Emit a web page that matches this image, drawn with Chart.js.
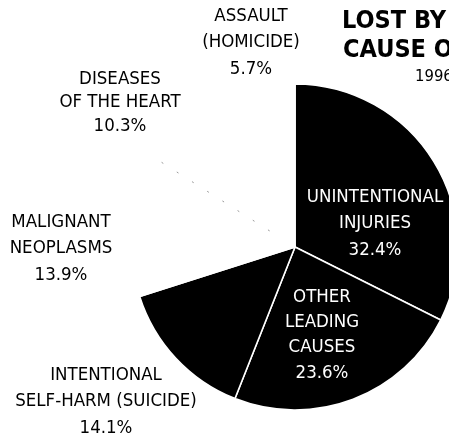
<!DOCTYPE html>
<html><head><meta charset="utf-8">
<script src="https://cdn.jsdelivr.net/npm/chart.js@4"></script>
<style>
html,body{margin:0;padding:0;background:#fff;overflow:hidden}
#wrap{width:449px;height:437px;overflow:hidden;position:relative;background:#fff}
canvas{display:block}
</style></head><body>
<div id="wrap"><canvas id="c" width="600" height="437" style="width:600px;height:437px"></canvas></div>
<script>
const categories = [
  ['UNINTENTIONAL','INJURIES'],
  ['OTHER','LEADING','CAUSES'],
  ['INTENTIONAL','SELF-HARM (SUICIDE)'],
  ['MALIGNANT','NEOPLASMS'],
  ['DISEASES','OF THE HEART'],
  ['ASSAULT','(HOMICIDE)']
];
const shares = [32.4, 23.6, 14.1, 13.9, 10.3, 5.7];
const sliceColors = ['#000000','#000000','#000000','#ffffff','#ffffff','#ffffff'];
const titleLines = ['LOST BY','CAUSE OF'];
const subtitle = '1996';

// label layout (positions of text blocks, not data)
const labelLayout = [
  {x:375, y:197, lh:26.5, color:'#fff'},
  {x:322, y:297, lh:25.3, color:'#fff'},
  {x:106, y:375, lh:26.5, color:'#000'},
  {x:61,  y:222, lh:26.5, color:'#000'},
  {x:120, y:79,  lh:23.5, color:'#000'},
  {x:251, y:16,  lh:26.5, color:'#000'}
];
const FONT = '"DejaVu Sans Condensed","DejaVu Sans",sans-serif';

const labelPlugin = {
  id:'labels',
  afterDatasetsDraw(chart){
    const ctx = chart.ctx;
    const meta = chart.getDatasetMeta(0);
    // faint dotted boundary between malignant neoplasms and heart disease
    const arc = meta.data[4];
    if (arc) {
      const p = arc.getProps(['x','y','startAngle','outerRadius'], true);
      ctx.save();
      ctx.strokeStyle = '#9a9a9a';
      ctx.lineWidth = 1;
      ctx.setLineDash([2,16]);
      ctx.beginPath();
      ctx.moveTo(p.x + Math.cos(p.startAngle)*30, p.y + Math.sin(p.startAngle)*30);
      ctx.lineTo(p.x + Math.cos(p.startAngle)*p.outerRadius, p.y + Math.sin(p.startAngle)*p.outerRadius);
      ctx.stroke();
      ctx.restore();
    }
    ctx.save();
    ctx.textAlign = 'center';
    ctx.textBaseline = 'middle';
    ctx.font = '18.5px ' + FONT;
    categories.forEach((lines, i) => {
      const L = labelLayout[i];
      ctx.fillStyle = L.color;
      const all = lines.concat([shares[i].toFixed(1) + '%']);
      all.forEach((t, k) => ctx.fillText(t, L.x, L.y + k*L.lh));
    });
    // title
    ctx.textAlign = 'left';
    ctx.fillStyle = '#000';
    ctx.font = 'bold 25px ' + FONT;
    ctx.fillText(titleLines[0], 342, 21);
    ctx.fillText(titleLines[1], 343, 50);
    ctx.font = '16.5px ' + FONT;
    ctx.fillText(subtitle, 415, 77);
    ctx.restore();
  }
};

new Chart(document.getElementById('c'), {
  type:'pie',
  data:{
    labels: categories.map(c => c.join(' ')),
    datasets:[{
      data: shares,
      backgroundColor: sliceColors,
      borderColor:'#ffffff',
      borderWidth:1.6,
      radius:163
    }]
  },
  options:{
    responsive:false,
    animation:false,
    layout:{padding:{left:0,right:10,top:57,bottom:0}},
    plugins:{legend:{display:false},tooltip:{enabled:false}}
  },
  plugins:[labelPlugin]
});
</script>
</body></html>
